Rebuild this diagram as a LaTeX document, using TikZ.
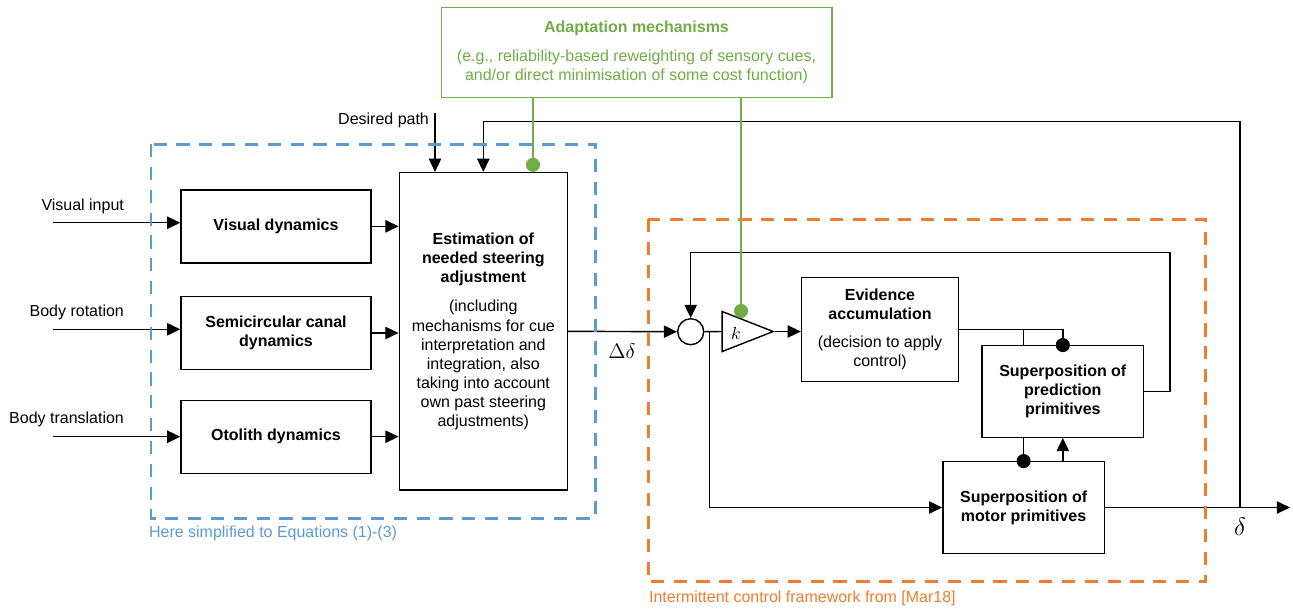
\documentclass[tikz,border=0pt]{standalone}
\usepackage{fontspec}
\setmainfont{Liberation Sans}
\usepackage{xcolor}
\usepackage{tikz}
\usetikzlibrary{arrows.meta,positioning,shapes.geometric}
\definecolor{adgreen}{RGB}{112,173,71}
\definecolor{simblue}{RGB}{91,155,213}
\definecolor{icorange}{RGB}{237,125,49}

\begin{document}
\begin{tikzpicture}[x=0.02cm, y=-0.02cm, font=\fontsize{9.1}{10.9}\selectfont,
  blk/.style={draw=black, line width=0.8pt, fill=white, align=center, inner sep=2pt},
  dyn/.style={blk, minimum width=3.8cm, minimum height=1.46cm},
  lab/.style={align=center, inner sep=1pt},
  arr/.style={-{Triangle[length=7.5pt,width=7pt]}, line width=0.8pt},
  ln/.style={line width=0.8pt},
  dotl/.style={-{Circle[length=8pt]}, shorten >=-4pt, line width=0.8pt},
  adl/.style={-{Circle[length=8pt]}, line width=0.6pt, draw=adgreen, color=adgreen},
  frame/.style={line width=1.7pt, dash pattern=on 7.5pt off 5.5pt}]
\useasboundingbox (0,0) rectangle (1293,610);
% --- adaptation box on top ---
\node[blk, draw=adgreen, text=adgreen, line width=0.6pt, minimum width=7.82cm, minimum height=1.8cm]
  (adapt) at (636.5,52.5) {\textbf{Adaptation mechanisms}\\[5.5pt](e.g., reliability-based reweighting of sensory cues,\\and/or direct minimisation of some cost function)};
% --- sensory dynamics ---
\node[dyn] (vis) at (276,226.3) {\textbf{Visual dynamics}};
\node[dyn] (scc) at (276,333) {\textbf{Semicircular canal}\\\textbf{dynamics}};
\node[dyn] (oto) at (276,436.7) {\textbf{Otolith dynamics}};
% --- estimation ---
\node[blk, minimum width=3.36cm, minimum height=6.35cm] (est) at (483.3,331.3)
  {\textbf{Estimation of}\\\textbf{needed steering}\\\textbf{adjustment}\\[6pt](including\\mechanisms for cue\\interpretation and\\integration, also\\taking into account\\own past steering\\adjustments)};
% --- intermittent controller ---
\node[draw, circle, line width=0.8pt, minimum size=0.52cm, inner sep=0pt] (sum) at (690.7,331.7) {};
\node[draw, line width=0.8pt, isosceles triangle, isosceles triangle stretches,
  minimum width=0.8cm, minimum height=1.02cm, inner sep=0pt, anchor=apex]
  (gain) at (775,331.5) {};
\node[lab] (kk) at (736,333) {\fontsize{10}{12}\selectfont$k$};
\node[blk, minimum width=3.14cm, minimum height=2.08cm] (ev) at (880,329.7)
  {\textbf{Evidence}\\\textbf{accumulation}\\[5pt](decision to apply\\control)};
\node[blk, minimum width=3.23cm, minimum height=1.83cm] (mot) at (1023.6,507.5)
  {\textbf{Superposition of}\\\textbf{motor primitives}};
% evidence -> motor runs behind the prediction box
\draw[dotl] (ev.east) -| (mot.north);
\node[blk, minimum width=3.23cm, minimum height=1.83cm] (pred) at (1062.8,391.5)
  {\textbf{Superposition of}\\\textbf{prediction}\\\textbf{primitives}};
% --- inputs ---
\node[lab, anchor=east] (vin) at (126,206) {Visual input};
\node[lab, anchor=east] (rin) at (126,312.7) {Body rotation};
\node[lab, anchor=east] (tin) at (126,419.3) {Body translation};
\coordinate (v0) at (52.7,222.7);
\coordinate (r0) at (52.7,329.3);
\coordinate (t0) at (52.7,436.7);
\draw[arr] (v0) -- (v0 -| vis.west);
\draw[arr] (r0) -- (r0 -| scc.west);
\draw[arr] (t0) -- (t0 -| oto.west);
\draw[arr] (vis.east) -- (vis.east -| est.west);
\draw[arr] (scc.east) -- (scc.east -| est.west);
\draw[arr] (oto.east) -- (oto.east -| est.west);
\node[lab, anchor=east] (dpl) at (431,120) {Desired path};
\coordinate (dp) at (435,113);
\draw[arr] (dp) -- (dp |- est.north);
% --- delta delta into controller ---
\draw[arr] (est.east) -- (sum.west);
\node[lab] (dd) at (622,351) {\fontsize{12}{14}\selectfont$\Delta\delta$};
\draw[ln] (sum.east) -- (gain.lower side);
\draw[arr] (gain.apex) -- (gain.apex -| ev.west);
\coordinate (br) at (709.6,331.6);
\draw[arr] (br) |- (mot.west);
\draw[dotl] (ev.east) -| (pred.north);
\draw[arr] (pred.south |- mot.north) -- (pred.south);
\coordinate (fbr) at (1170,252.3);
\draw[arr] (pred.east) -| (fbr) -| (sum.north);
% --- output and steering feedback ---
\coordinate (out) at (1290,507.5);
\coordinate (fb) at (1240,507.5);
\coordinate (fbtop) at (483.3,121.7);
\draw[arr] (mot.east) -- (out);
\draw[arr] (fb) |- (fbtop) -- (est.north);
\node[lab] (dl) at (1240,527) {\fontsize{13.5}{15}\selectfont$\delta$};
% --- adaptation links ---
\coordinate (g1) at ([xshift=0.994cm]est.north);
\coordinate (g2) at (741,318);
\draw[adl] (g1 |- adapt.south) -- (g1);
\draw[adl] (g2 |- adapt.south) -- (g2);
% --- frames ---
\draw[frame, simblue] (151,144) rectangle (595.7,518);
\node[lab, anchor=west, text=simblue] (simlab) at (147,533) {Here simplified to Equations (1)-(3)};
\draw[frame, icorange] (648,219) rectangle (1205,581.7);
\node[lab, anchor=west, text=icorange] (iclab) at (647,598.5) {Intermittent control framework from [Mar18]};
\end{tikzpicture}
\end{document}
